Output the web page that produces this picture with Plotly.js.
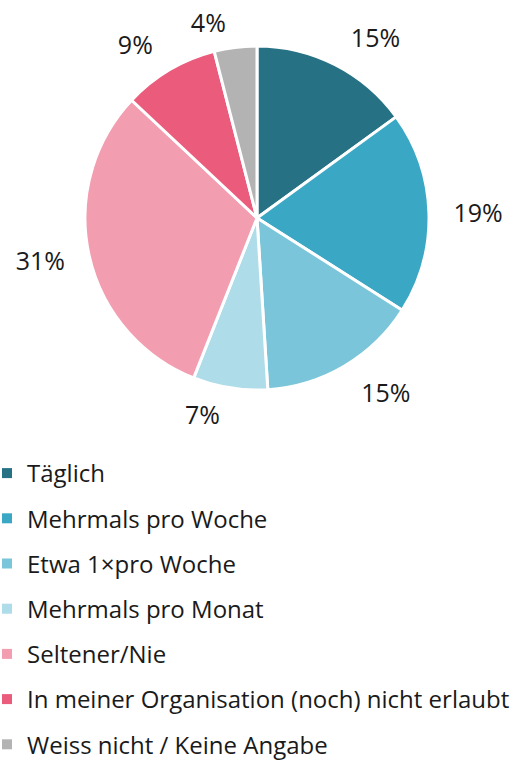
<!DOCTYPE html>
<html><head><meta charset="utf-8">
<script src="https://cdn.plot.ly/plotly-3.0.1.min.js"></script>
<style>html,body{margin:0;padding:0;background:#fff}#chart{width:517px;height:766px}</style>
</head><body><div id="chart"></div>
<script>
const categories = ["Täglich","Mehrmals pro Woche","Etwa 1×pro Woche","Mehrmals pro Monat","Seltener/Nie","In meiner Organisation (noch) nicht erlaubt","Weiss nicht / Keine Angabe"];
const values = [15,19,15,7,31,9,4];
const colors = ["#267184","#3AA8C4","#7AC5D9","#AEDCE8","#F29DB0","#EB5B7C","#B3B3B3"];
const FONT = "Open Sans, Noto Sans, sans-serif";
const W = 517, H = 766;
const cx = 257, cy = 218, r = 172;

function dom(rad) {
  return {x: [(cx - rad) / W, (cx + rad) / W], y: [1 - (cy + rad) / H, 1 - (cy - rad) / H]};
}
function labelPie(showIdx, rad) {
  return {
    type: "pie",
    values: values,
    labels: categories,
    marker: {colors: colors.map(() => "rgba(0,0,0,0)"), line: {width: 0}},
    sort: false,
    direction: "clockwise",
    rotation: 0,
    textposition: values.map((v, i) => showIdx(i) ? "outside" : "none"),
    texttemplate: "%{value}%",
    textfont: {family: FONT, size: 25, color: "#1a1a1a"},
    showlegend: false,
    hoverinfo: "none",
    domain: dom(rad)
  };
}

const traces = [{
  type: "pie",
  values: values,
  labels: categories,
  marker: {colors: colors, line: {color: "#fff", width: 3}},
  sort: false,
  direction: "clockwise",
  rotation: 0,
  textinfo: "none",
  showlegend: false,
  hoverinfo: "none",
  domain: dom(r)
},
labelPie(i => i !== 6 && i !== 3, 188),
labelPie(i => i === 3, 182),
labelPie(i => i === 6, 181)];

categories.forEach((c, i) => {
  traces.push({
    type: "scatter", mode: "markers", x: [null], y: [null], name: c,
    legendgroup: "g" + i,
    marker: {symbol: "square", size: 10, color: colors[i]},
    hoverinfo: "none"
  });
});

const layout = {
  width: W, height: H,
  margin: {l: 0, r: 0, t: 0, b: 0, autoexpand: false},
  paper_bgcolor: "#fff", plot_bgcolor: "#fff",
  font: {family: FONT, color: "#1a1a1a"},
  xaxis: {visible: false}, yaxis: {visible: false},
  showlegend: true,
  legend: {
    x: -13 / W, xanchor: "left", y: 1 - 451 / H, yanchor: "top",
    font: {family: FONT, size: 24, color: "#1a1a1a"},
    tracegroupgap: 11, bgcolor: "rgba(0,0,0,0)"
  }
};
Plotly.newPlot("chart", traces, layout, {staticPlot: true});
</script></body></html>
